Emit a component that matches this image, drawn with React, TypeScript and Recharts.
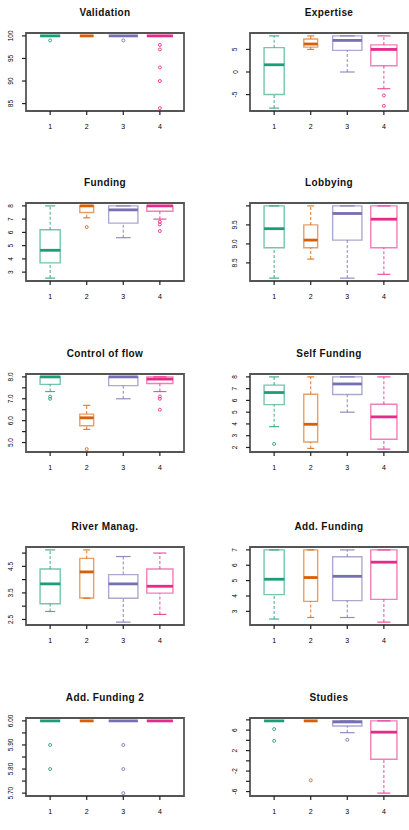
import React from 'react';
import { ComposedChart, XAxis, YAxis, ReferenceArea, ReferenceLine, Scatter } from 'recharts';

const groupLabels = ['1', '2', '3', '4'];
const groupPositions = [1, 2, 3, 4];
const groupSizes = [19, 9, 40, 32];
const groupColors = ['#1B9E77', '#D95F02', '#7570B3', '#E7298A'];

// each group: [lower whisker, Q1, median, Q3, upper whisker]
const validationStats = [[100, 100, 100, 100, 100], [100, 100, 100, 100, 100], [100, 100, 100, 100, 100], [100, 100, 100, 100, 100]];
const validationOutliers = [[99], [], [99], [98, 97, 93, 90, 84]];
const validationTicks = [85, 90, 95, 100];
const validationTickLabels = ['85', '90', '95', '100'];

const expertiseStats = [[-8, -5, 1.6, 5.4, 8], [5, 5.5, 6.2, 7.3, 8], [0, 4.8, 7, 8, 8], [-3.7, 1.4, 5, 6, 8]];
const expertiseOutliers = [[], [], [], [-5.2, -7.5]];
const expertiseTicks = [-5, 0, 5];
const expertiseTickLabels = ['-5', '0', '5'];

const fundingStats = [[2.55, 3.7, 4.65, 6.2, 8], [7.1, 7.5, 8, 8, 8], [5.6, 6.7, 7.7, 8, 8], [7, 7.6, 8, 8, 8]];
const fundingOutliers = [[], [6.4], [], [6.8, 6.6, 6.1]];
const fundingTicks = [3, 4, 5, 6, 7, 8];
const fundingTickLabels = ['3', '4', '5', '6', '7', '8'];

const lobbyingStats = [[8.1, 8.9, 9.4, 10, 10], [8.6, 8.9, 9.1, 9.5, 10], [8.1, 9.1, 9.8, 10, 10], [8.2, 8.9, 9.65, 10, 10]];
const lobbyingOutliers = [[], [], [], []];
const lobbyingTicks = [8.5, 9, 9.5, 10];
const lobbyingTickLabels = ['8.5', '9.0', '9.5', ''];

const flowStats = [[7.33, 7.66, 8, 8, 8], [5.6, 5.77, 6.13, 6.3, 6.7], [7, 7.6, 8, 8, 8], [7.33, 7.7, 7.9, 8, 8]];
const flowOutliers = [[7.1, 7], [4.7], [], [7.1, 7, 6.5]];
const flowTicks = [5, 5.5, 6, 6.5, 7, 7.5, 8];
const flowTickLabels = ['5.0', '', '6.0', '', '7.0', '', '8.0'];

const selfFundingStats = [[3.77, 5.64, 6.67, 7.3, 8], [1.92, 2.46, 3.97, 6.52, 8], [5, 6.5, 7.4, 8, 8], [1.86, 2.7, 4.6, 5.67, 8]];
const selfFundingOutliers = [[2.3], [], [], []];
const selfFundingTicks = [2, 3, 4, 5, 6, 7, 8];
const selfFundingTickLabels = ['2', '3', '4', '5', '6', '7', '8'];

const riverStats = [[2.8, 3.09, 3.84, 4.4, 5.12], [3.3, 3.31, 4.29, 4.8, 5.12], [2.4, 3.3, 3.84, 4.19, 4.87], [2.69, 3.49, 3.75, 4.4, 5]];
const riverOutliers = [[], [], [], []];
const riverTicks = [2.5, 3, 3.5, 4, 4.5, 5];
const riverTickLabels = ['2.5', '', '3.5', '', '4.5', ''];

const addFundingStats = [[2.5, 4.09, 5.09, 7, 7], [2.6, 3.65, 5.2, 7, 7], [2.6, 3.7, 5.28, 6.55, 7], [2.3, 3.78, 6.2, 7, 7]];
const addFundingOutliers = [[], [], [], []];
const addFundingTicks = [3, 4, 5, 6, 7];
const addFundingTickLabels = ['3', '4', '5', '6', '7'];

const addFunding2Stats = [[6, 6, 6, 6, 6], [6, 6, 6, 6, 6], [6, 6, 6, 6, 6], [6, 6, 6, 6, 6]];
const addFunding2Outliers = [[5.9, 5.8], [], [5.9, 5.8, 5.7], []];
const addFunding2Ticks = [5.7, 5.75, 5.8, 5.85, 5.9, 5.95, 6];
const addFunding2TickLabels = ['5.70', '', '5.80', '', '5.90', '', '6.00'];

const studiesStats = [[7.8, 7.8, 7.8, 7.8, 7.8], [7.8, 7.8, 7.8, 7.8, 7.8], [5.5, 6.8, 7.6, 7.8, 7.8], [-6.3, 0.3, 5.6, 7.8, 7.8]];
const studiesOutliers = [[6.2, 3.9], [-3.8], [4.1], []];
const studiesTicks = [-6, -4, -2, 0, 2, 4, 6, 8];
const studiesTickLabels = ['-6', '', '-2', '', '2', '', '6', ''];

const panels = [
  { title: 'Validation', stats: validationStats, outliers: validationOutliers, ticks: validationTicks, tickLabels: validationTickLabels },
  { title: 'Expertise', stats: expertiseStats, outliers: expertiseOutliers, ticks: expertiseTicks, tickLabels: expertiseTickLabels },
  { title: 'Funding', stats: fundingStats, outliers: fundingOutliers, ticks: fundingTicks, tickLabels: fundingTickLabels },
  { title: 'Lobbying', stats: lobbyingStats, outliers: lobbyingOutliers, ticks: lobbyingTicks, tickLabels: lobbyingTickLabels },
  { title: 'Control of flow', stats: flowStats, outliers: flowOutliers, ticks: flowTicks, tickLabels: flowTickLabels },
  { title: 'Self Funding', stats: selfFundingStats, outliers: selfFundingOutliers, ticks: selfFundingTicks, tickLabels: selfFundingTickLabels },
  { title: 'River Manag.', stats: riverStats, outliers: riverOutliers, ticks: riverTicks, tickLabels: riverTickLabels },
  { title: 'Add. Funding', stats: addFundingStats, outliers: addFundingOutliers, ticks: addFundingTicks, tickLabels: addFundingTickLabels },
  { title: 'Add. Funding 2', stats: addFunding2Stats, outliers: addFunding2Outliers, ticks: addFunding2Ticks, tickLabels: addFunding2TickLabels },
  { title: 'Studies', stats: studiesStats, outliers: studiesOutliers, ticks: studiesTicks, tickLabels: studiesTickLabels },
];

const rowTops = [0, 170, 341, 514, 685];
const font = '"Liberation Sans", Arial, sans-serif';
const xDomain = [0.34, 4.66];

function BoxPanel({ panel, width }: { panel: any; width: number }) {
  const values: number[] = panel.stats.flat().concat(panel.outliers.flat());
  const lo = Math.min(...values);
  const hi = Math.max(...values);
  const pad = (hi - lo) * 0.04;
  const yDomain = [lo - pad, hi + pad];
  const maxRoot = Math.sqrt(Math.max(...groupSizes));

  const marks = panel.stats.flatMap((s: number[], i: number) => {
    const g = groupPositions[i];
    const half = (0.8 * Math.sqrt(groupSizes[i])) / maxRoot / 2;
    const c = groupColors[i];
    const [wLo, q1, med, q3, wHi] = s;
    return [
      <ReferenceLine key={`wl${i}`} segment={[{ x: g, y: wLo }, { x: g, y: q1 }]} stroke={c} strokeOpacity={0.75} strokeDasharray="3 2" strokeWidth={1.1} ifOverflow="visible" />,
      <ReferenceLine key={`wh${i}`} segment={[{ x: g, y: q3 }, { x: g, y: wHi }]} stroke={c} strokeOpacity={0.75} strokeDasharray="3 2" strokeWidth={1.1} ifOverflow="visible" />,
      <ReferenceLine key={`cl${i}`} segment={[{ x: g - half / 2, y: wLo }, { x: g + half / 2, y: wLo }]} stroke={c} strokeOpacity={0.8} strokeWidth={1.2} ifOverflow="visible" />,
      <ReferenceLine key={`ch${i}`} segment={[{ x: g - half / 2, y: wHi }, { x: g + half / 2, y: wHi }]} stroke={c} strokeOpacity={0.8} strokeWidth={1.2} ifOverflow="visible" />,
      <ReferenceArea key={`bx${i}`} x1={g - half} x2={g + half} y1={q1} y2={q3} fill="#fff" fillOpacity={1} stroke={c} strokeOpacity={0.6} strokeWidth={1.4} ifOverflow="visible" />,
      <ReferenceLine key={`md${i}`} segment={[{ x: g - half, y: med }, { x: g + half, y: med }]} stroke={c} strokeWidth={2.8} ifOverflow="visible" />,
    ];
  });

  const dots = panel.outliers.flatMap((o: number[], i: number) =>
    o.length === 0
      ? []
      : [
          <Scatter
            key={`o${i}`}
            data={o.map((v) => ({ x: groupPositions[i], y: v }))}
            dataKey="y"
            isAnimationActive={false}
            shape={(p: any) => <circle cx={p.cx} cy={p.cy} r={1.5} fill="none" stroke={groupColors[i]} strokeOpacity={0.85} strokeWidth={1} />}
          />,
        ]
  );

  return (
    <ComposedChart width={width} height={170} margin={{ top: 33, right: width - 184, bottom: 0, left: 0 }}>
      <XAxis
        type="number"
        dataKey="x"
        domain={xDomain}
        ticks={groupPositions}
        allowDataOverflow
        interval={0}
        axisLine={false}
        tickSize={4}
        tickMargin={0}
        height={59}
        tickLine={{ stroke: '#222', strokeWidth: 1.2 }}
        tick={(p: any) => (
          <text x={p.x} y={p.y} dy={14} textAnchor="middle" fontSize={7} fontFamily={font} fill="#000">
            {groupLabels[groupPositions.indexOf(p.payload.value)]}
          </text>
        )}
      />
      <YAxis
        type="number"
        dataKey="y"
        domain={yDomain}
        ticks={panel.ticks}
        allowDataOverflow
        interval={0}
        axisLine={false}
        width={26}
        tickSize={4}
        tickMargin={0}
        tickLine={{ stroke: '#222', strokeWidth: 1.2 }}
        tick={(p: any) => {
          const bx = p.x - 8.5;
          return (
            <text x={bx} y={p.y} transform={`rotate(-90 ${bx} ${p.y})`} textAnchor="middle" fontSize={6.5} fontFamily={font} fill="#000">
              {panel.tickLabels[panel.ticks.indexOf(p.payload.value)]}
            </text>
          );
        }}
      />
      {marks}
      {dots}
      <ReferenceArea x1={xDomain[0]} x2={xDomain[1]} y1={yDomain[0]} y2={yDomain[1]} fill="none" stroke="#555" strokeWidth={1.8} ifOverflow="visible" />
    </ComposedChart>
  );
}

export default function App() {
  return (
    <div style={{ position: 'absolute', left: 0, top: 0, width: 409, height: 830, overflow: 'hidden', background: '#fff' }}>
      {panels.map((panel, i) => {
        const col = i % 2;
        const left = col === 0 ? 0 : 224;
        const width = col === 0 ? 224 : 185;
        const top = rowTops[Math.floor(i / 2)];
        return (
          <div key={panel.title} style={{ position: 'absolute', left, top, width, height: 170 }}>
            <div
              style={{
                position: 'absolute',
                left: 26,
                width: 158,
                top: 7,
                lineHeight: '12px',
                textAlign: 'center',
                fontFamily: font,
                fontWeight: 'bold',
                fontSize: 10,
                letterSpacing: 0.4,
                color: '#111',
              }}
            >
              {panel.title}
            </div>
            <BoxPanel panel={panel} width={width} />
          </div>
        );
      })}
    </div>
  );
}
